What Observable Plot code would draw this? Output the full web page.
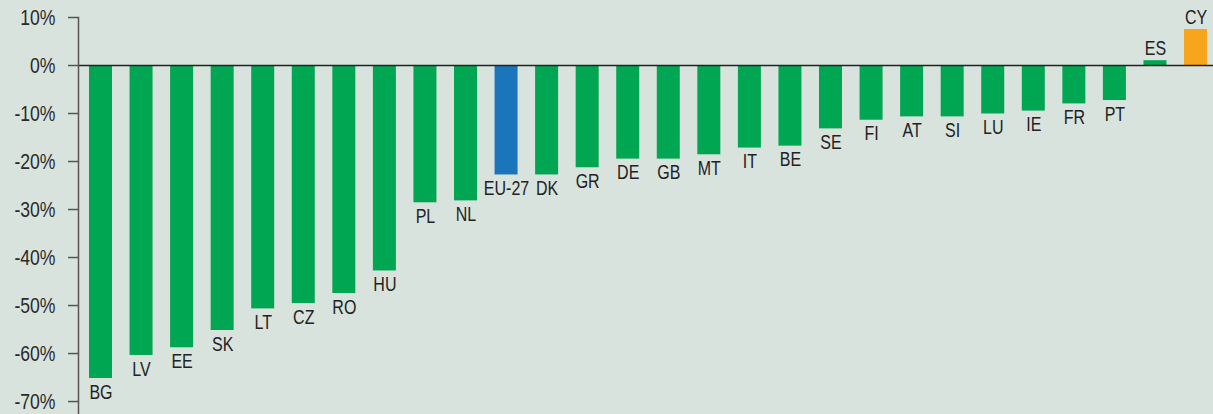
<!DOCTYPE html>
<html>
<head>
<meta charset="utf-8">
<script src="https://cdn.jsdelivr.net/npm/d3@7"></script>
<script src="https://cdn.jsdelivr.net/npm/@observablehq/plot@0.6"></script>
<style>
  html, body { margin: 0; padding: 0; background: #d9e3de; }
  #chart svg { display: block; background: #d9e3de; }
</style>
</head>
<body>
<div id="chart"></div>
<script>
const countries = ["BG","LV","EE","SK","LT","CZ","RO","HU","PL","NL","EU-27","DK","GR","DE","GB","MT","IT","BE","SE","FI","AT","SI","LU","IE","FR","PT","ES","CY"];
const values = [-65.2,-60.4,-58.8,-55.2,-50.7,-49.6,-47.5,-42.8,-28.6,-28.2,-22.8,-22.8,-21.3,-19.5,-19.5,-18.6,-17.2,-16.8,-13.2,-11.4,-10.7,-10.7,-10.1,-9.5,-8.0,-7.3,1.0,7.5];
const yTicks = [10,0,-10,-20,-30,-40,-50,-60,-70];
const highlight = {"EU-27": "#1b75bb", "CY": "#f7a51c"};
const baseColor = "#00a651";

const data = countries.map((c, i) => ({country: c, value: values[i], color: highlight[c] || baseColor}));
const font = "'Liberation Sans', Arial, sans-serif";

const chart = Plot.plot({
  width: 1213,
  height: 414,
  marginLeft: 78,
  marginRight: 0,
  marginTop: 17,
  marginBottom: 0,
  style: {background: "#d9e3de", fontFamily: font, color: "#2a2a2a"},
  x: {domain: countries, range: [78, 1218], paddingInner: 0.433, paddingOuter: 0.271, round: false, axis: null},
  y: {domain: [-72.7, 10], axis: null},
  marks: [
    Plot.barY(data, {x: "country", y: "value", fill: "color"}),
    Plot.ruleY([0], {stroke: "#222", strokeWidth: 1.5}),
    Plot.frame({anchor: "left", stroke: "#555", strokeWidth: 1.5}),
    Plot.axisY({ticks: yTicks, tickSize: 10, tickPadding: 13, tickFormat: d => d + "%", fontSize: 22, stroke: "#555", strokeWidth: 1.5, fill: "#2a2a2a", label: null}),
    Plot.text(data.filter(d => d.value < 0), {x: "country", y: "value", text: "country", lineAnchor: "top", dy: 6, fontSize: 20, fill: "#222"}),
    Plot.text(data.filter(d => d.value >= 0), {x: "country", y: "value", text: "country", lineAnchor: "bottom", dy: -6, fontSize: 20, fill: "#222"})
  ]
});

// condense all text horizontally (the reference uses a condensed face)
d3.select(chart).selectAll("text").each(function () {
  const el = this;
  const t = el.getAttribute("transform");
  if (t) {
    el.setAttribute("transform", t + " scale(0.8,1)");
  } else {
    const x = +(el.getAttribute("x") || 0), y = +(el.getAttribute("y") || 0);
    el.removeAttribute("x"); el.removeAttribute("y");
    el.setAttribute("transform", `translate(${x},${y}) scale(0.8,1)`);
  }
});
document.getElementById("chart").append(chart);
</script>
</body>
</html>
